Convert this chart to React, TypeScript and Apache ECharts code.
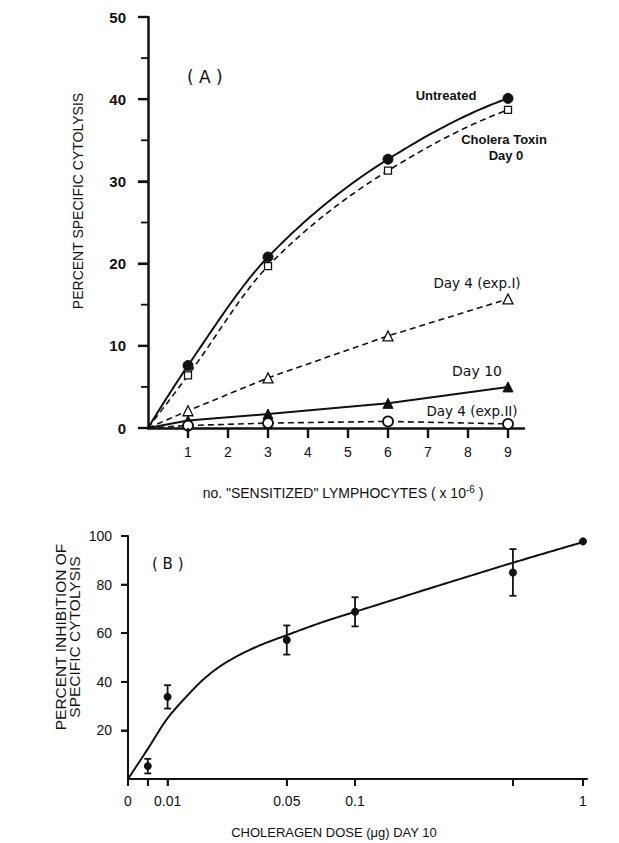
import React, { useEffect, useRef } from "react";
import * as echarts from "echarts";

// ---------- Panel A data ----------
const cellsA = [0, 1, 3, 6, 9];
const untreated = [0, 7.6, 20.8, 32.7, 40.1];
const choleraDay0 = [0, 6.4, 19.7, 31.3, 38.7];
const day4ExpI = [0, 2.1, 6.1, 11.2, 15.7];
const day10 = [0, 0.9, 1.7, 3.0, 5.0];
const day4ExpII = [0, 0.3, 0.6, 0.8, 0.5];
const xTicksA = [1, 2, 3, 4, 5, 6, 7, 8, 9];
const yLabelsA = [0, 10, 20, 30, 40, 50];
const yMinorTicksA = [5, 15, 25, 35, 45];

// ---------- Panel B data ----------
// the dose axis is drawn with a non-uniform scale: dose stops -> axis fraction
const doseStops = [0, 0.01, 0.05, 0.1, 0.5, 1];
const doseAxisStops = [0, 0.087, 0.349, 0.499, 0.846, 1];
const doseTicks = [0, 0.005, 0.01, 0.05, 0.1, 0.5, 1];
const doseTickLabels = ["0", "", "0.01", "0.05", "0.1", "", "1"];
const doseB = [0.005, 0.01, 0.05, 0.1, 0.5, 1];
const inhibB = [5.3, 33.8, 57.2, 68.8, 85, 97.8];
const errB = [3, 4.8, 6, 6, 9.6, 0];
const curveDose = [0, 0.005, 0.01, 0.016, 0.0225, 0.029, 0.04, 0.05, 0.078, 0.1, 0.5, 1];
const curveInhib = [0, 12.4, 25, 33.5, 41.5, 47.5, 54.5, 59.2, 64.9, 68.8, 89, 97.5];
const yTicksB = [20, 40, 60, 80, 100];

function doseToAxis(d: number): number {
  for (let i = 1; i < doseStops.length; i++) {
    if (d <= doseStops[i]) {
      const t = (d - doseStops[i - 1]) / (doseStops[i] - doseStops[i - 1]);
      return doseAxisStops[i - 1] + t * (doseAxisStops[i] - doseAxisStops[i - 1]);
    }
  }
  return doseAxisStops[doseAxisStops.length - 1];
}

// monotone cubic (Fritsch-Butland) sampling between given data points
function monotoneSample(xs: number[], ys: number[], n = 30): number[][] {
  const k = xs.length;
  const h: number[] = [];
  const d: number[] = [];
  for (let i = 0; i < k - 1; i++) {
    h[i] = xs[i + 1] - xs[i];
    d[i] = (ys[i + 1] - ys[i]) / h[i];
  }
  const m: number[] = new Array(k).fill(0);
  for (let i = 1; i < k - 1; i++) {
    if (d[i - 1] * d[i] <= 0) m[i] = 0;
    else m[i] = (3 * (h[i - 1] + h[i])) / ((2 * h[i] + h[i - 1]) / d[i - 1] + (h[i] + 2 * h[i - 1]) / d[i]);
  }
  m[0] = ((2 * h[0] + (h[1] || 0)) * d[0] - h[0] * (d[1] ?? d[0])) / (h[0] + (h[1] || 0));
  if (m[0] * d[0] <= 0) m[0] = 0;
  else if (Math.abs(m[0]) > 3 * Math.abs(d[0])) m[0] = 3 * d[0];
  const L = k - 1;
  m[L] = ((2 * h[L - 1] + (h[L - 2] || 0)) * d[L - 1] - h[L - 1] * (d[L - 2] ?? d[L - 1])) / (h[L - 1] + (h[L - 2] || 0));
  if (m[L] * d[L - 1] <= 0) m[L] = 0;
  else if (Math.abs(m[L]) > 3 * Math.abs(d[L - 1])) m[L] = 3 * d[L - 1];
  const out: number[][] = [];
  for (let i = 0; i < k - 1; i++) {
    for (let j = 0; j < n; j++) {
      const t = j / n;
      const t2 = t * t, t3 = t2 * t;
      const h00 = 2 * t3 - 3 * t2 + 1, h10 = t3 - 2 * t2 + t, h01 = -2 * t3 + 3 * t2, h11 = t3 - t2;
      out.push([xs[i] + t * h[i], h00 * ys[i] + h10 * h[i] * m[i] + h01 * ys[i + 1] + h11 * h[i] * m[i + 1]]);
    }
  }
  out.push([xs[k - 1], ys[k - 1]]);
  return out;
}

const FONT = "Liberation Sans";
const ANN = "DejaVu Sans";
const BLACK = "#111";

function pts(xs: number[], ys: number[]) {
  return xs.map((x, i) =>
    i === 0 && x === 0 ? { value: [x, ys[i]], symbol: "none" } : { value: [x, ys[i]] }
  );
}

function splineSeries(name: string, xs: number[], ys: number[], axis: number, lineWidth: number, dash: number[] | null) {
  return {
    name,
    type: "custom",
    xAxisIndex: axis,
    yAxisIndex: axis,
    data: xs.map((x, i) => [x, ys[i]]),
    encode: { x: 0, y: 1 },
    silent: true,
    renderItem: (params: any, api: any) => {
      if (params.dataIndex !== 0) return null;
      const points = monotoneSample(xs, ys).map((p) => api.coord(p));
      return {
        type: "polyline",
        shape: { points },
        style: { stroke: BLACK, lineWidth, fill: null, lineDash: dash || undefined },
      };
    },
  };
}

export default function App() {
  const ref = useRef<HTMLDivElement>(null);
  useEffect(() => {
    document.body.style.margin = "0";
    const chart = echarts.init(ref.current!, undefined, { renderer: "svg" });
    const openStyle = { color: "#fff", borderColor: BLACK, borderWidth: 1.3, opacity: 1 };
    const filledStyle = { color: BLACK, borderColor: BLACK, borderWidth: 1, opacity: 1 };
    const bTickVals = doseTicks.map(doseToAxis);
    const curveX = curveDose.map(doseToAxis);
    const texts: any[] = [
      { type: "text", left: 187, top: 68, style: { text: "( A )", fontSize: 17, fontFamily: ANN, fill: BLACK } },
      { type: "text", x: 446, y: 95, style: { text: "Untreated", fontSize: 13, fontWeight: "bold", fontFamily: FONT, fill: BLACK, align: "center", verticalAlign: "middle" } },
      { type: "text", x: 504, y: 139, style: { text: "Cholera Toxin", fontSize: 13, fontWeight: "bold", fontFamily: FONT, fill: BLACK, align: "center", verticalAlign: "middle" } },
      { type: "text", x: 506, y: 155, style: { text: "Day 0", fontSize: 13, fontWeight: "bold", fontFamily: FONT, fill: BLACK, align: "center", verticalAlign: "middle" } },
      { type: "text", x: 477, y: 283, style: { text: "Day 4 (exp.I)", fontSize: 13.5, fontFamily: ANN, fill: BLACK, align: "center", verticalAlign: "middle" } },
      { type: "text", x: 477, y: 371, style: { text: "Day 10", fontSize: 14, fontFamily: ANN, fill: BLACK, align: "center", verticalAlign: "middle" } },
      { type: "text", x: 472, y: 411, style: { text: "Day 4 (exp.II)", fontSize: 13.5, fontFamily: ANN, fill: BLACK, align: "center", verticalAlign: "middle" } },
      {
        type: "text",
        x: 78,
        y: 201,
        rotation: Math.PI / 2,
        style: { text: "PERCENT SPECIFIC CYTOLYSIS", fontSize: 14, fontFamily: FONT, fill: BLACK, align: "center", verticalAlign: "middle" },
      },
      {
        type: "text",
        x: 343,
        y: 493,
        style: {
          text: 'no. "SENSITIZED" LYMPHOCYTES ( x 10{sup|-6} )',
          fontSize: 14,
          fontFamily: FONT,
          fill: BLACK,
          align: "center",
          verticalAlign: "middle",
          rich: { sup: { fontSize: 10, fontFamily: FONT, fill: BLACK, verticalAlign: "top", padding: [0, 0, 8, 0] } },
        },
      },
      { type: "text", left: 152, top: 556, style: { text: "( B )", fontSize: 15, fontFamily: ANN, fill: BLACK } },
      {
        type: "text",
        x: 67,
        y: 637,
        rotation: Math.PI / 2,
        style: {
          text: "PERCENT INHIBITION OF\nSPECIFIC CYTOLYSIS",
          fontSize: 15.5,
          lineHeight: 14,
          fontFamily: FONT,
          fill: BLACK,
          align: "center",
          verticalAlign: "middle",
        },
      },
      {
        type: "text",
        x: 334,
        y: 832,
        style: { text: "CHOLERAGEN DOSE (\u03bcg) DAY 10", fontSize: 13, fontFamily: FONT, fill: BLACK, align: "center", verticalAlign: "middle" },
      },
    ];
    const option: any = {
      animation: false,
      backgroundColor: "#fff",
      grid: [
        { left: 148, top: 17, width: 376, height: 411 },
        { left: 128, top: 536, width: 459, height: 243 },
      ],
      xAxis: [
        {
          gridIndex: 0,
          type: "value",
          min: 0,
          max: 9.4,
          axisLine: { show: true, lineStyle: { color: BLACK, width: 2.5 } },
          axisTick: { show: true, customValues: xTicksA, length: 10, lineStyle: { color: BLACK, width: 2.2 } },
          axisLabel: { customValues: xTicksA, margin: 17, fontSize: 14, color: BLACK, fontFamily: FONT },
          splitLine: { show: false },
        },
        {
          gridIndex: 1,
          type: "value",
          min: 0,
          max: 459 / 455,
          axisLine: { show: true, lineStyle: { color: BLACK, width: 2 } },
          axisTick: { show: true, customValues: bTickVals, length: 7, lineStyle: { color: BLACK, width: 1.8 } },
          axisLabel: {
            customValues: bTickVals,
            margin: 15,
            fontSize: 14,
            color: BLACK,
            fontFamily: FONT,
            formatter: (v: number) => {
              let best = 0;
              bTickVals.forEach((t, i) => {
                if (Math.abs(t - v) < Math.abs(bTickVals[best] - v)) best = i;
              });
              return doseTickLabels[best];
            },
          },
          splitLine: { show: false },
        },
      ],
      yAxis: [
        {
          gridIndex: 0,
          type: "value",
          min: 0,
          max: 50,
          axisLine: { show: true, lineStyle: { color: BLACK, width: 2.5 } },
          axisTick: { show: true, customValues: yLabelsA, length: 10, lineStyle: { color: BLACK, width: 2.2 } },
          axisLabel: { customValues: yLabelsA, margin: 22, fontSize: 15, color: BLACK, fontFamily: FONT, fontWeight: "bold" },
          splitLine: { show: false },
        },
        {
          gridIndex: 1,
          type: "value",
          min: 0,
          max: 100,
          axisLine: { show: true, lineStyle: { color: BLACK, width: 2 } },
          axisTick: { show: true, customValues: yTicksB, length: 7, lineStyle: { color: BLACK, width: 1.8 } },
          axisLabel: { customValues: yTicksB, margin: 16, fontSize: 14, color: BLACK, fontFamily: FONT },
          splitLine: { show: false },
        },
      ],
      series: [
        splineSeries("Untreated curve", cellsA, untreated, 0, 2, null),
        splineSeries("Cholera curve", cellsA, choleraDay0, 0, 1.6, [6, 4]),
        {
          name: "Untreated",
          type: "scatter",
          xAxisIndex: 0,
          yAxisIndex: 0,
          data: pts(cellsA, untreated),
          symbol: "circle",
          symbolSize: 10,
          itemStyle: filledStyle,
          z: 5,
        },
        {
          name: "Cholera Toxin Day 0",
          type: "scatter",
          xAxisIndex: 0,
          yAxisIndex: 0,
          data: pts(cellsA, choleraDay0),
          symbol: "rect",
          symbolSize: 7,
          itemStyle: openStyle,
          z: 5,
        },
        {
          name: "Day 4 (exp.I)",
          type: "line",
          xAxisIndex: 0,
          yAxisIndex: 0,
          data: pts(cellsA, day4ExpI),
          symbol: "triangle",
          symbolSize: 10,
          lineStyle: { color: BLACK, width: 1.6, type: [6, 4] },
          itemStyle: openStyle,
        },
        {
          name: "Day 10",
          type: "line",
          xAxisIndex: 0,
          yAxisIndex: 0,
          data: pts(cellsA, day10),
          symbol: "triangle",
          symbolSize: 10,
          lineStyle: { color: BLACK, width: 2 },
          itemStyle: filledStyle,
        },
        {
          name: "Day 4 (exp.II)",
          type: "line",
          xAxisIndex: 0,
          yAxisIndex: 0,
          data: pts(cellsA, day4ExpII),
          symbol: "circle",
          symbolSize: 10,
          lineStyle: { color: BLACK, width: 1.6, type: [6, 4] },
          itemStyle: { color: "#fff", borderColor: BLACK, borderWidth: 1.8, opacity: 1 },
        },
        splineSeries("Fit", curveX, curveInhib, 1, 2, null),
        {
          name: "Error",
          type: "custom",
          xAxisIndex: 1,
          yAxisIndex: 1,
          data: doseB
            .map((d, i) => [doseToAxis(d), inhibB[i] - errB[i], inhibB[i] + errB[i]])
            .filter((r) => r[2] > r[1]),
          encode: { x: 0, y: [1, 2] },
          renderItem: (params: any, api: any) => {
            const x = api.value(0);
            const top = api.coord([x, api.value(2)]);
            const bot = api.coord([x, api.value(1)]);
            const w = 3.5;
            const st = { stroke: BLACK, lineWidth: 1.8 };
            return {
              type: "group",
              children: [
                { type: "line", shape: { x1: top[0], y1: top[1], x2: bot[0], y2: bot[1] }, style: st },
                { type: "line", shape: { x1: top[0] - w, y1: top[1], x2: top[0] + w, y2: top[1] }, style: st },
                { type: "line", shape: { x1: bot[0] - w, y1: bot[1], x2: bot[0] + w, y2: bot[1] }, style: st },
              ],
            };
          },
        },
        {
          name: "Inhibition",
          type: "scatter",
          xAxisIndex: 1,
          yAxisIndex: 1,
          data: doseB.map((d, i) => [doseToAxis(d), inhibB[i]]),
          symbol: "circle",
          symbolSize: 8,
          itemStyle: { color: BLACK, opacity: 1 },
          z: 5,
        },
      ],
      graphic: texts,
    };
    chart.setOption(option);

    // outward tick marks, placed through the axes' own scales (coincide with the native ticks)
    const tickLines: any[] = [];
    const addTicks = (grid: number, values: number[], dir: "x" | "y", len: number, width: number) => {
      values.forEach((v) => {
        const p = chart.convertToPixel({ gridIndex: grid }, dir === "x" ? [v, 0] : [0, v]) as number[];
        if (!p || !isFinite(p[0]) || !isFinite(p[1])) return;
        tickLines.push({
          type: "line",
          z: 100,
          shape:
            dir === "x"
              ? { x1: p[0], y1: p[1], x2: p[0], y2: p[1] + len }
              : { x1: p[0], y1: p[1], x2: p[0] - len, y2: p[1] },
          style: { stroke: BLACK, lineWidth: width },
        });
      });
    };
    addTicks(0, xTicksA, "x", 10, 2.2);
    addTicks(0, yLabelsA, "y", 10, 2.2);
    addTicks(0, yMinorTicksA, "y", 7, 1.8);
    addTicks(1, bTickVals, "x", 7, 1.8);
    addTicks(1, yTicksB, "y", 7, 1.8);
    chart.setOption({ graphic: texts.concat(tickLines) });

    return () => chart.dispose();
  }, []);
  return <div ref={ref} style={{ width: 619, height: 843 }} />;
}
